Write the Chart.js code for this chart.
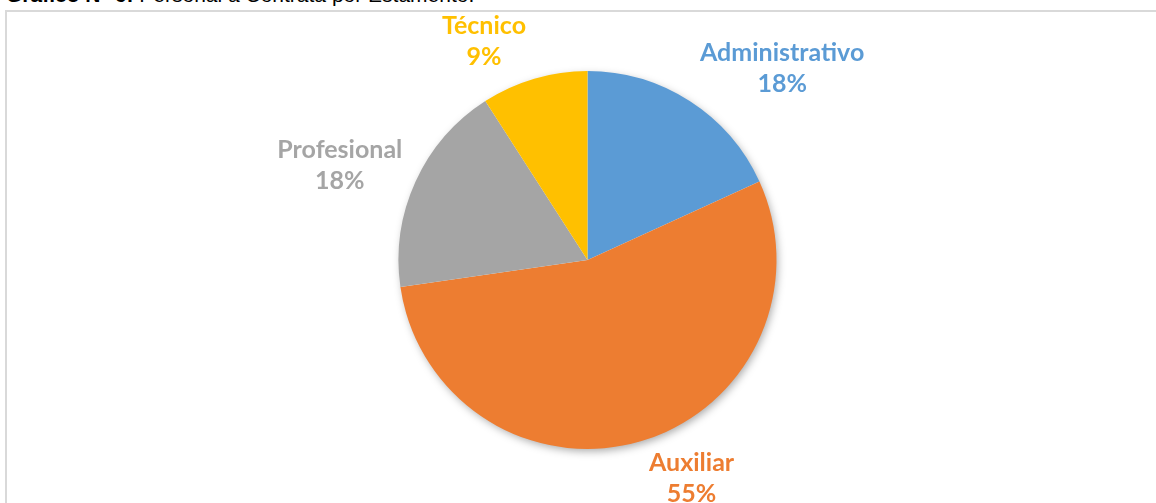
<!DOCTYPE html>
<html>
<head>
<meta charset="utf-8">
<script src="https://cdn.jsdelivr.net/npm/chart.js@4"></script>
<style>
  html, body { margin: 0; padding: 0; background: #fff; overflow: hidden; }
  #titulo {
    position: absolute; left: 6px; top: -16px;
    font-family: "Liberation Sans", Arial, sans-serif; font-size: 21px; line-height: 21px;
    color: #000; white-space: nowrap;
  }
  #marco {
    position: absolute; left: 5px; top: 10px; width: 1200px; height: 600px;
    border: 2px solid #d9d9d9; box-sizing: border-box;
  }
  #wrap { position: absolute; left: 0; top: 0; width: 1156px; height: 503px; }
</style>
</head>
<body>
<div id="titulo"><b>Gráfico N° 6:</b> Personal a Contrata por Estamento.</div>
<div id="marco"></div>
<div id="wrap"><canvas id="chart_pie"></canvas></div>

<script>
// datos del grafico
const estamentos = ['Administrativo', 'Auxiliar', 'Profesional', 'Técnico'];
const personas   = [2, 6, 2, 1];
const colores    = ['#5B9BD5', '#ED7D31', '#A5A5A5', '#FFC000'];

const ctx_pie = document.getElementById('chart_pie');

// sombra suave bajo el circulo (como Excel)
const sombraPie = {
  id: 'sombraPie',
  beforeDatasetsDraw(chart) {
    const arc = chart.getDatasetMeta(0).data[0];
    if (!arc) return;
    const c = chart.ctx;
    c.save();
    c.shadowColor = 'rgba(0,0,0,0.35)';
    c.shadowBlur = 9;
    c.shadowOffsetX = 2;
    c.shadowOffsetY = 3;
    c.fillStyle = '#ffffff';
    c.beginPath();
    c.arc(arc.x, arc.y, arc.outerRadius - 1, 0, Math.PI * 2);
    c.fill();
    c.restore();
  }
};

// etiquetas fuera del borde: nombre + porcentaje
const etiquetas = {
  id: 'etiquetas',
  afterDatasetsDraw(chart) {
    const meta = chart.getDatasetMeta(0);
    const ds = chart.data.datasets[0];
    const total = ds.data.reduce((a, b) => a + b, 0);
    const c = chart.ctx;
    const lineH = 31;
    c.save();
    c.font = 'bold 25px Lato, "Open Sans", sans-serif';
    c.textAlign = 'center';
    c.textBaseline = 'middle';
    meta.data.forEach((arc, i) => {
      const mid = (arc.startAngle + arc.endAngle) / 2;   // 0 = derecha
      const dx = Math.cos(mid), dy = Math.sin(mid);
      const r = arc.outerRadius + 8;
      const px = arc.x + r * dx, py = arc.y + r * dy;
      const l1 = chart.data.labels[i];
      const l2 = Math.round(ds.data[i] / total * 100) + '%';
      const w = Math.max(c.measureText(l1).width, c.measureText(l2).width);
      const h = lineH * 2;
      const fx = Math.max(-1, Math.min(1, dx * 4));
      const cx = px + fx * (w / 2 + 6);
      const cy = py + dy * h / 2;
      c.fillStyle = colores[i];
      c.fillText(l1, cx, cy - lineH / 2);
      c.fillText(l2, cx, cy + lineH / 2);
    });
    c.restore();
  }
};

const configPie = {
  type: 'pie',
  data: {
    labels: estamentos,
    datasets: [{
      data: personas,
      backgroundColor: colores,
      borderWidth: 0,
      hoverOffset: 0
    }]
  },
  options: {
    responsive: true,
    maintainAspectRatio: false,
    animation: false,
    layout: { padding: { top: 71, bottom: 54, left: 19, right: 0 } },
    plugins: {
      legend: { display: false },
      tooltip: { enabled: false }
    }
  },
  plugins: [sombraPie, etiquetas]
};

const chartPie = new Chart(ctx_pie, configPie);
</script>
</body>
</html>
